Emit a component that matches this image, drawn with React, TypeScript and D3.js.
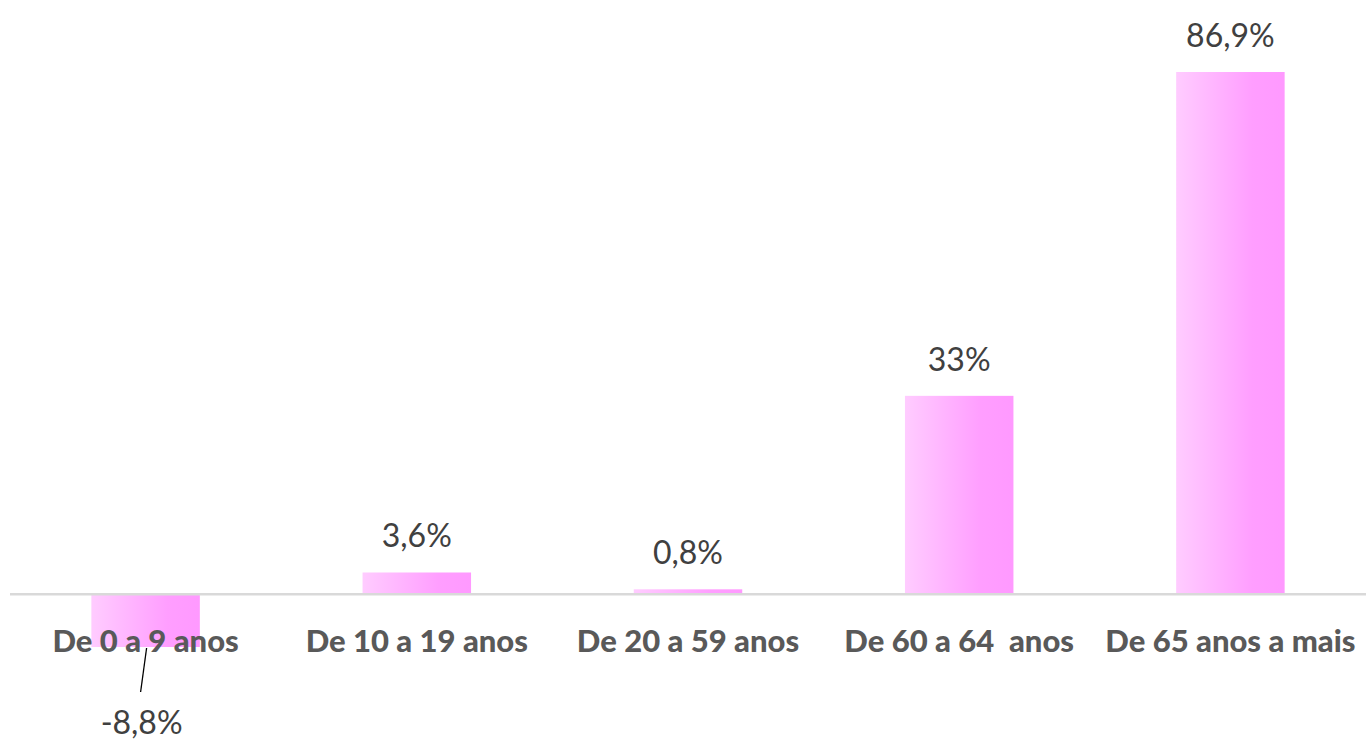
import React, { useEffect, useRef } from "react";
import * as d3 from "d3";

const categories = [
  "De 0 a 9 anos",
  "De 10 a 19 anos",
  "De 20 a 59 anos",
  "De 60 a 64  anos",
  "De 65 anos a mais",
];
const values = [-8.8, 3.6, 0.8, 33, 86.9];
const valueLabels = ["-8,8%", "3,6%", "0,8%", "33%", "86,9%"];

const App = () => {
  const ref = useRef<SVGSVGElement>(null);

  useEffect(() => {
    const width = 1369,
      height = 741;
    const svg = d3.select(ref.current);
    svg.selectAll("*").remove();

    // gradient for the bars
    const defs = svg.append("defs");
    const grad = defs
      .append("linearGradient")
      .attr("id", "barGrad")
      .attr("x1", "0%")
      .attr("x2", "100%")
      .attr("y1", "0%")
      .attr("y2", "0%");
    grad.append("stop").attr("offset", "0%").attr("stop-color", "#ffccff");
    grad.append("stop").attr("offset", "70%").attr("stop-color", "#ff9eff");
    grad.append("stop").attr("offset", "100%").attr("stop-color", "#ff99ff");

    const x = d3
      .scaleBand()
      .domain(categories)
      .range([10, 1366])
      .paddingInner(0.6)
      .paddingOuter(0.3);

    const y = d3.scaleLinear().domain([-8.8, 86.9]).range([647, 72]);

    // bars
    svg
      .append("g")
      .selectAll("rect")
      .data(values)
      .enter()
      .append("rect")
      .attr("x", (d, i) => x(categories[i]))
      .attr("y", (d) => y(Math.max(0, d)))
      .attr("width", x.bandwidth())
      .attr("height", (d) => Math.abs(y(d) - y(0)))
      .style("fill", "url(#barGrad)");

    // zero axis line
    svg
      .append("line")
      .attr("x1", 10)
      .attr("x2", 1366)
      .attr("y1", y(0))
      .attr("y2", y(0))
      .style("stroke", "#d9d9d9")
      .style("stroke-width", 2.5);

    // category labels
    svg
      .append("g")
      .selectAll("text")
      .data(categories)
      .enter()
      .append("text")
      .attr("x", (d) => x(d) + x.bandwidth() / 2)
      .attr("y", 652)
      .attr("text-anchor", "middle")
      .style("font-family", "Lato")
      .style("font-weight", 900)
      .style("font-size", "31px")
      .style("fill", "#595959")
      .style("white-space", "pre")
      .text((d) => d);

    // value labels
    svg
      .append("g")
      .selectAll("text")
      .data(values)
      .enter()
      .append("text")
      .attr("x", (d, i) =>
        d < 0 ? x(categories[i]) + x.bandwidth() / 2 - 4 : x(categories[i]) + x.bandwidth() / 2
      )
      .attr("y", (d) => (d < 0 ? 734 : y(d) - 25))
      .attr("text-anchor", "middle")
      .style("font-family", "Lato")
      .style("font-size", "32px")
      .style("fill", "#404040")
      .text((d, i) => valueLabels[i]);

    // leader line for the negative label
    const c0 = x(categories[0]) + x.bandwidth() / 2;
    svg
      .append("line")
      .attr("x1", c0 + 1)
      .attr("y1", y(values[0]) + 1)
      .attr("x2", c0 - 5)
      .attr("y2", 692)
      .style("stroke", "#000")
      .style("stroke-width", 1.3);

    svg.attr("width", width).attr("height", height);
  }, []);

  return (
    <svg
      ref={ref}
      width={1369}
      height={741}
      style={{ position: "absolute", left: 0, top: 0, background: "#fff" }}
    />
  );
};

export default App;
